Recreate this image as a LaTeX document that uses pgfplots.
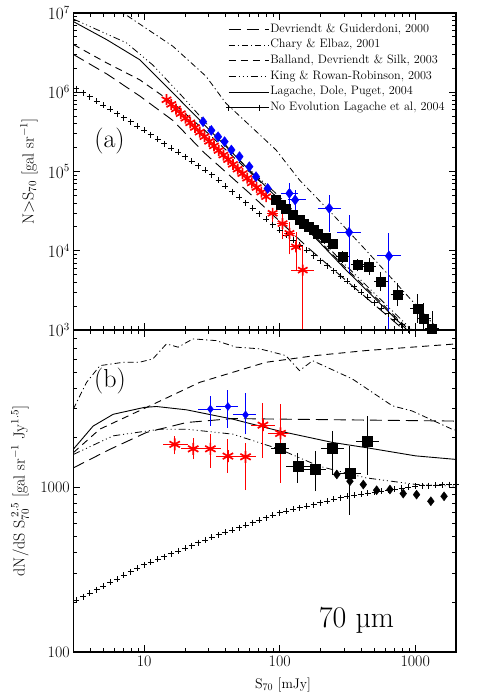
\documentclass[border=0pt]{standalone}
\usepackage{pgfplots}
\pgfplotsset{compat=1.18}
\pgfplotsset{
  devr/.style={black, line width=0.9pt, dash pattern=on 12pt off 6pt},
  chary/.style={black, line width=0.8pt, dash pattern=on 6pt off 3pt on 1.2pt off 3pt},
  ball/.style={black, line width=0.9pt, dash pattern=on 7pt off 5pt},
  king/.style={black, line width=0.8pt, dash pattern=on 7pt off 3pt on 1pt off 3pt on 1pt off 3pt on 1pt off 3pt},
  lag/.style={black, line width=0.9pt},
  noev/.style={black, only marks, mark=+, mark size=3pt, mark options={line width=0.9pt, solid}},
  redstar/.style={red, only marks, mark=asterisk, mark size=5.5pt, mark options={line width=1.7pt}},
  bluedia/.style={blue, only marks, mark=diamond*, mark options={fill=blue, draw=blue}},
  blacksq/.style={black, only marks, mark=square*, mark options={fill=black}},
  errbar/.style={line width=1pt, no marks, solid},
  linelegend/.style={legend image code/.code={\draw[##1] (0pt,0pt) -- (30pt,0pt); \path (0pt,0pt) -- (40pt,0pt);}},
  crosslegend/.style={legend image code/.code={\draw[##1] plot coordinates {(0pt,0pt) (31pt,0pt)}; \path (0pt,0pt) -- (40pt,0pt);}},
}
\begin{document}
\begin{tikzpicture}[x=1pt,y=1pt]
\useasboundingbox (0,0) rectangle (486,692);
% ---------------- panel (a)
\begin{axis}[scale only axis, width=382.7pt, height=317pt,
  xmode=log, ymode=log, xmin=3, xmax=2000,
  at={(73.3pt,362pt)}, anchor=south west,
  axis line style={line width=1.2pt},
  major tick length=7pt, minor tick length=4pt,
  every tick/.style={black, line width=0.8pt},
  tick label style={font=\fontsize{16}{18}\selectfont},
  label style={font=\fontsize{16}{19}\selectfont},
  xtick={10,100,1000},
  minor xtick={3,4,5,6,7,8,9,20,30,40,50,60,70,80,90,200,300,400,500,600,700,800,900,2000},
  unbounded coords=jump,
  ymin=1e3, ymax=1e7,
  xticklabels={},
  ytick={1e3,1e4,1e5,1e6,1e7},
  minor ytick={2e3,3e3,4e3,5e3,6e3,7e3,8e3,9e3,2e4,3e4,4e4,5e4,6e4,7e4,8e4,9e4,2e5,3e5,4e5,5e5,6e5,7e5,8e5,9e5,2e6,3e6,4e6,5e6,6e6,7e6,8e6,9e6},
  ylabel={N$>$S$_{70}$ [gal sr$^{-1}$]},
  ylabel style={at={(axis description cs:-0.116,0.5)}, anchor=center},
  legend style={at={(axis description cs:0.398,0.680)}, anchor=south west, draw=none, fill=none,
    font=\fontsize{12.2}{13}\selectfont, row sep=2.4pt, inner sep=0pt,
    nodes={inner sep=1pt, text height=8.2pt, text depth=3pt}},
  legend cell align=left,
]
\addplot[devr, linelegend] coordinates {
(3,3.0e6) (5.3,1.7e6) (9.25,9.0e5) (16.3,4.4e5) (28,1.7e5) (60,5.3e4) (166,1.05e4) (300,4.4e3) (800,1.05e3) (2000,2.8e2)};
\addlegendentry{Devriendt \& Guiderdoni, 2000}
\addplot[chary, linelegend] coordinates {
(3,2.8e7) (7.0,1e7) (16.3,3.8e6) (28.6,1.59e6) (40,7.3e5) (94,1.87e5) (140,7.8e4) (245,2.9e4) (432,1.02e4) (1490,1e3) (2000,5.8e2)};
\addlegendentry{Chary \& Elbaz, 2001}
\addplot[ball, linelegend] coordinates {
(3,4.0e6) (5.3,2.34e6) (9.25,1.44e6) (16.3,7.3e5) (28.6,3.2e5) (53,1.2e5) (100,4.4e4) (300,6.3e3) (900,1.0e3) (2000,2.5e2)};
\addlegendentry{Balland, Devriendt \& Silk, 2003}
\addplot[king, linelegend] coordinates {
(3,8.4e6) (7.4,4.2e6) (11.6,2.2e6) (19.3,8.7e5) (50,1.4e5) (100,4.8e4) (300,6.8e3) (870,1.15e3) (2000,2.8e2)};
\addlegendentry{King \& Rowan-Robinson, 2003}
\addplot[lag, linelegend] coordinates {
(3,7.8e6) (5.3,4.6e6) (9.25,2.58e6) (16.3,9.8e5) (28.6,3.7e5) (100,4.3e4) (300,6.0e3) (870,1e3) (2000,2.4e2)};
\addlegendentry{Lagache, Dole, Puget, 2004}
\addplot[noev, crosslegend] table {
3.16 1.11e6
3.55 9.85e5
3.98 8.73e5
4.47 7.73e5
5.01 6.84e5
5.62 6.07e5
6.31 5.37e5
7.08 4.76e5
7.94 4.22e5
8.91 3.74e5
10.0 3.31e5
11.2 2.91e5
12.6 2.56e5
14.1 2.25e5
15.8 1.98e5
17.8 1.74e5
20.0 1.53e5
22.4 1.35e5
25.1 1.18e5
28.2 1.04e5
31.6 9.06e4
35.5 7.71e4
39.8 6.56e4
44.7 5.58e4
50.1 4.76e4
56.2 4.06e4
63.1 3.45e4
70.8 2.94e4
79.4 2.51e4
89.1 2.14e4
100 1.82e4
112 1.57e4
126 1.35e4
141 1.17e4
158 1.01e4
178 8.68e3
200 7.48e3
224 6.46e3
251 5.57e3
282 4.80e3
316 4.13e3
355 3.53e3
398 3.01e3
447 2.58e3
501 2.20e3
562 1.88e3
631 1.60e3
708 1.37e3
794 1.17e3
891 1.00e3
};
\addlegendentry{No Evolution Lagache et al, 2004}
% black squares (a)
\addplot[black, errbar, forget plot] coordinates {
(291,7.1e3) (291,9.9e3) (291,nan) (260,8.41e3) (326,8.41e3) (326,nan)
(375,5.5e3) (375,7.9e3) (375,nan) (335,6.61e3) (420,6.61e3) (420,nan)
(457,5.0e3) (457,8.0e3) (457,nan) (408,6.31e3) (512,6.31e3) (512,nan)
(557,3.1e3) (557,5.4e3) (557,nan) (497,4.07e3) (625,4.07e3) (625,nan)
(738,2.0e3) (738,3.9e3) (738,nan) (658,2.77e3) (828,2.77e3) (828,nan)
(1035,1.24e3) (1035,2.85e3) (1035,nan) (922,1.88e3) (1160,1.88e3) (1160,nan)
(1159,8.8e2) (1159,2.2e3) (1159,nan) (1033,1.40e3) (1300,1.40e3) (1300,nan)
(1334,6.3e2) (1334,1.75e3) (1334,nan) (1190,1.05e3) (1497,1.05e3)
};
\addplot[blacksq, mark size=4.5pt, forget plot] coordinates {
(94,4.37e4) (102,3.8e4) (111,3.44e4) (125,2.88e4) (140,2.44e4) (151,2.19e4) (165,2.01e4) (178,1.82e4) (191,1.66e4) (219,1.44e4) (245,1.24e4) (291,8.41e3) (375,6.61e3) (457,6.31e3) (557,4.07e3) (738,2.77e3) (1035,1.88e3) (1159,1.40e3) (1334,1.05e3)};
% red (a)
\addplot[red, errbar, forget plot] coordinates {
(88.7,2.2e4) (88.7,3.5e4) (88.7,nan) (80,2.97e4) (98,2.97e4) (98,nan)
(105,1.4e4) (105,2.9e4) (105,nan) (95,2.2e4) (116,2.2e4) (116,nan)
(118,9e3) (118,2.3e4) (118,nan) (107,1.66e4) (130,1.66e4) (130,nan)
(132,5.5e3) (132,1.7e4) (132,nan) (120,1.12e4) (146,1.12e4) (146,nan)
(148,500) (148,1.15e4) (148,nan) (121,5.7e3) (180,5.7e3)
};
\addplot[redstar, forget plot] coordinates {
(14.62,8.04e5) (15.85,7.03e5) (17.18,6.14e5) (18.62,5.37e5) (20.18,4.70e5) (21.88,4.11e5) (23.71,3.59e5) (25.70,3.14e5) (27.86,2.75e5) (30.20,2.40e5) (32.73,2.10e5) (35.48,1.84e5) (38.46,1.61e5) (41.69,1.41e5) (45.19,1.23e5) (48.98,1.07e5) (53.09,9.40e4) (57.54,8.22e4) (62.37,7.18e4) (67.61,6.28e4) (73.28,5.50e4) (79.43,4.81e4)
(88.7,2.97e4) (105,2.2e4) (118,1.66e4) (132,1.12e4) (148,5.7e3)};
% blue (a)
\addplot[blue, errbar, forget plot] coordinates {
(118,3.1e4) (118,7.1e4) (118,nan) (102,5.3e4) (136,5.3e4) (136,nan)
(130,2.37e4) (130,5.85e4) (130,nan) (115,4.37e4) (156,4.37e4) (156,nan)
(232,1.74e4) (232,5.05e4) (232,nan) (191,3.44e4) (283,3.44e4) (283,nan)
(325,5.19e3) (325,2.83e4) (325,nan) (267,1.71e4) (397,1.71e4) (397,nan)
(640,500) (640,1.66e4) (640,nan) (525,8.6e3) (781,8.6e3)
};
\addplot[bluedia, mark size=5pt, forget plot] coordinates {
(27.2,4.25e5) (31.3,3.3e5) (35.1,2.75e5) (39.2,2.38e5) (44.0,1.87e5) (50.5,1.54e5) (59.7,1.15e5) (66.9,8.6e4) (81.6,6.1e4)
(118,5.3e4) (130,4.37e4) (232,3.44e4) (325,1.71e4) (640,8.6e3)};
\node[font=\fontsize{26}{30}\selectfont] at (rel axis cs:0.0946,0.5946) {(a)};
\end{axis}
% ---------------- panel (b)
\begin{axis}[scale only axis, width=382.7pt, height=322pt,
  xmode=log, ymode=log, xmin=3, xmax=2000,
  at={(73.3pt,40pt)}, anchor=south west,
  axis line style={line width=1.2pt},
  major tick length=7pt, minor tick length=4pt,
  every tick/.style={black, line width=0.8pt},
  tick label style={font=\fontsize{16}{18}\selectfont},
  label style={font=\fontsize{16}{19}\selectfont},
  xtick={10,100,1000},
  minor xtick={3,4,5,6,7,8,9,20,30,40,50,60,70,80,90,200,300,400,500,600,700,800,900,2000},
  unbounded coords=jump,
  ymin=100, ymax=9000,
  xticklabels={10,100,1000},
  ytick={100,1000}, yticklabels={100,1000},
  minor ytick={200,300,400,500,600,700,800,900,2000,3000,4000,5000,6000,7000,8000,9000},
  ylabel={dN/dS S$_{70}^{\;2.5}$ [gal sr$^{-1}$ Jy$^{1.5}$]},
  ylabel style={at={(axis description cs:-0.139,0.5)}, anchor=center},
  xlabel={S$_{70}$ [mJy]},
  xlabel style={at={(axis description cs:0.548,-0.101)}, anchor=center, font=\fontsize{14}{16}\selectfont},
]
\addplot[chary] coordinates {
(3,2980) (3.76,4330) (4.72,5470) (7.0,5730) (9.3,5740) (11.6,6010) (14.6,7410) (17.8,7080) (22.9,7950) (34,7760) (47.7,7080) (71,6920) (100,6440) (111,6290) (140,5100) (175,5860) (344,4540) (678,3120) (951,2900) (1870,2250) (2000,2220)};
\addplot[ball] coordinates {
(3,1620) (4.7,2250) (10.4,3050) (25.7,4330) (79,5730) (185,6300) (432,6750) (2000,7410)};
\addplot[lag] coordinates {
(3,1700) (4.2,2350) (5.9,2770) (10,3050) (12.3,3090) (20.5,2950) (45,2590) (100,2190) (245,1870) (432,1740) (1007,1550) (2000,1475)};
\addplot[devr] coordinates {
(3,1310) (5.6,1700) (10.4,2150) (20.5,2470) (45,2610) (100,2590) (2000,2520)};
\addplot[king] coordinates {
(3,1580) (5.9,2050) (13,2250) (20.5,2250) (45,2100) (100,1700) (196,1340) (432,1140) (1007,1040) (2000,1015)};
\addplot[noev] table {
3.16 206.5
3.55 216.9
3.98 228
4.47 239.3
5.01 251.2
5.62 264.1
6.31 277.3
7.08 291.7
7.94 306.2
8.91 322.1
10.0 338.1
11.2 351.6
12.6 365.6
14.1 379.3
15.8 394.5
17.8 410.2
20.0 426.6
22.4 442.6
25.1 460.3
28.2 478.6
31.6 496.6
35.5 514
39.8 532.1
44.7 549.5
50.1 568.9
56.2 588.8
63.1 609.5
70.8 631
79.4 651.6
89.1 674.5
100 698.2
112 714.5
126 732.8
141 749.9
158 767.4
178 785.2
200 805.4
224 824.2
251 843.4
282 865
316 883.1
355 895.4
398 907.8
447 920.4
501 933.3
562 946.2
631 959.4
708 972.7
794 986.3
891 1000
1000 1014
1122 1019
1259 1023
1413 1028
1585 1033
1778 1038
1995 1040
};
\addplot[black, only marks, mark=diamond*, mark size=4.5pt, mark options={fill=black}] coordinates {
(264,1195) (330,1088) (414,1038) (519,959) (651,968) (816,915) (1023,902) (1304,822) (1633,881)};
\addplot[black, errbar] coordinates {
(101,1582) (101,1862) (101,nan) (86.5,1720) (118,1720) (118,nan)
(136,1062) (136,1618) (136,nan) (112,1340) (166,1340) (166,nan)
(184,946) (184,1660) (184,nan) (152,1290) (220,1290) (220,nan)
(246,1194) (246,2193) (246,nan) (202,1720) (300,1720) (300,nan)
(330,681) (330,1778) (330,nan) (276,1210) (398,1210) (398,nan)
(445,1194) (445,2710) (445,nan) (366,1890) (543,1890)
};
\addplot[blacksq, mark size=5pt] coordinates {
(101,1720) (136,1340) (184,1290) (246,1720) (330,1210) (445,1890)};
\addplot[red, errbar] coordinates {
(16.8,1580) (16.8,2050) (16.8,nan) (13.8,1820) (21.1,1820) (21.1,nan)
(23.0,1475) (23.0,2000) (23.0,nan) (18.8,1710) (28.0,1710) (28.0,nan)
(30.8,1313) (30.8,2095) (30.8,nan) (25.7,1710) (37.1,1710) (37.1,nan)
(41.5,1222) (41.5,1950) (41.5,nan) (34.1,1545) (50.6,1545) (50.6,nan)
(56.0,959) (56.0,1862) (56.0,nan) (45.2,1530) (67.1,1530) (67.1,nan)
(75.2,1510) (75.2,3266) (75.2,nan) (61.7,2380) (91.6,2380) (91.6,nan)
(101.4,1062) (101.4,3192) (101.4,nan) (81.8,2120) (118,2120)
};
\addplot[redstar, mark size=6pt] coordinates {
(16.8,1820) (23.0,1710) (30.8,1710) (41.5,1545) (56.0,1530) (75.2,2380) (101.4,2120)};
\addplot[blue, errbar] coordinates {
(30.8,2355) (30.8,3590) (30.8,nan) (25.0,2980) (37.1,2980) (37.1,nan)
(41.5,2300) (41.5,3900) (41.5,nan) (34.1,3090) (49.2,3090) (49.2,nan)
(56.0,2095) (56.0,3725) (56.0,nan) (45.2,2750) (67.1,2750)
};
\addplot[bluedia, mark size=4pt] coordinates {
(30.8,2980) (41.5,3090) (56.0,2750)};
\node[font=\fontsize{26}{30}\selectfont] at (rel axis cs:0.096,0.8416) {(b)};
\node[font=\fontsize{30}{34}\selectfont] at (rel axis cs:0.740,0.0994) {70 µm};
\end{axis}
\end{tikzpicture}
\end{document}
